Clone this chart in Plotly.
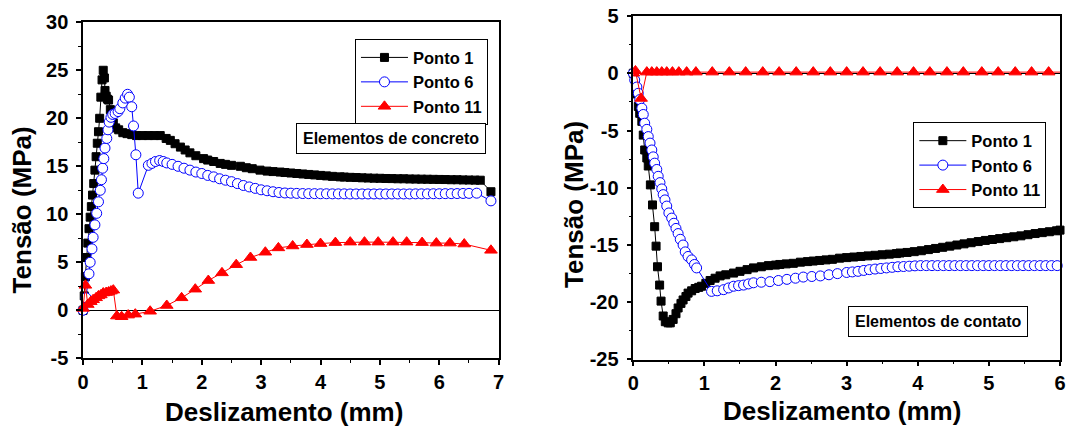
import plotly.graph_objects as go

# ---------------- Elementos de concreto ----------------
conc_p1_x = [0, 0.02, 0.04, 0.06, 0.08, 0.10, 0.12, 0.14, 0.16, 0.18, 0.20, 0.22, 0.24, 0.26, 0.28,
             0.30, 0.32, 0.34, 0.36, 0.37, 0.39, 0.41, 0.43, 0.46, 0.48, 0.51, 0.55, 0.60, 0.67, 0.74,
             0.82, 0.90, 1.00, 1.10, 1.20, 1.30, 1.40, 1.47, 1.55, 1.64, 1.72, 1.80, 1.90, 2.03, 2.10,
             2.20, 2.31, 2.40, 2.50, 2.65, 2.75, 2.85, 2.98, 3.10, 3.20, 3.32, 3.40, 3.50, 3.60, 3.70,
             3.80, 3.90, 4.00, 4.10, 4.20, 4.33, 4.40, 4.50, 4.60, 4.70, 4.80, 4.90, 5.00, 5.10, 5.20,
             5.30, 5.40, 5.50, 5.60, 5.70, 5.80, 5.90, 6.00, 6.10, 6.20, 6.30, 6.40, 6.50, 6.60, 6.69,
             6.87]
conc_p1_y = [0, 1.5, 3.5, 5.5, 7.0, 8.5, 9.7, 10.8, 12.0, 13.2, 14.6, 16.0, 17.4, 18.6, 20.0,
             22.2, 24.0, 25.0, 24.2, 22.9, 22.3, 22.0, 21.9, 20.9, 20.5, 19.5, 19.0, 18.8, 18.5, 18.4,
             18.3, 18.2, 18.2, 18.2, 18.2, 18.2, 17.9, 17.7, 17.35, 17.0, 16.7, 16.4, 16.1, 15.8, 15.65,
             15.5, 15.3, 15.2, 15.1, 15.0, 14.85, 14.75, 14.6, 14.5, 14.45, 14.4, 14.35, 14.3, 14.25, 14.2,
             14.15, 14.1, 14.05, 14.0, 13.95, 13.9, 13.88, 13.85, 13.83, 13.8, 13.78, 13.76, 13.75, 13.73, 13.72,
             13.7, 13.7, 13.68, 13.67, 13.66, 13.65, 13.64, 13.63, 13.62, 13.6, 13.6, 13.58, 13.57, 13.56, 13.55,
             12.35]

conc_p6_x = [0, 0.05, 0.10, 0.12, 0.15, 0.17, 0.20, 0.23, 0.26, 0.29, 0.31, 0.33, 0.35, 0.37, 0.40,
             0.42, 0.44, 0.47, 0.50, 0.54, 0.59, 0.62, 0.67, 0.71, 0.75, 0.78, 0.82, 0.85, 0.89, 0.93,
             1.10, 1.16, 1.22, 1.29, 1.35, 1.41, 1.50, 1.60, 1.70, 1.80, 1.90, 2.00, 2.10, 2.20, 2.30,
             2.40, 2.50, 2.60, 2.70, 2.80, 2.90, 3.00, 3.10, 3.20, 3.30, 3.40, 3.50, 3.60, 3.70, 3.80,
             3.90, 4.00, 4.10, 4.20, 4.30, 4.40, 4.50, 4.60, 4.70, 4.80, 4.90, 5.00, 5.10, 5.20, 5.30,
             5.40, 5.50, 5.60, 5.70, 5.80, 5.90, 6.00, 6.10, 6.20, 6.30, 6.40, 6.50, 6.63, 6.87]
conc_p6_y = [0, 1.3, 3.8, 5.0, 6.4, 7.6, 8.9, 10.1, 11.3, 12.5, 13.6, 14.8, 15.8, 16.9, 17.9,
             18.8, 19.6, 20.1, 20.4, 20.5, 20.7, 21.0, 21.6, 22.1, 22.5, 22.2, 21.2, 19.2, 16.2, 12.2,
             15.1, 15.3, 15.5, 15.6, 15.5, 15.35, 15.2, 15.0, 14.8, 14.6, 14.4, 14.25, 14.05, 13.9, 13.7,
             13.55, 13.4, 13.2, 13.0, 12.85, 12.7, 12.55, 12.45, 12.35, 12.27, 12.22, 12.2, 12.18, 12.16, 12.15,
             12.15, 12.14, 12.14, 12.13, 12.13, 12.13, 12.12, 12.12, 12.12, 12.12, 12.12, 12.12, 12.12, 12.12, 12.12,
             12.12, 12.12, 12.13, 12.13, 12.13, 12.14, 12.14, 12.15, 12.15, 12.16, 12.17, 12.18, 12.2, 11.4]

conc_p11_x = [0, 0.04, 0.08, 0.13, 0.17, 0.22, 0.26, 0.30, 0.34, 0.39, 0.43, 0.47, 0.51, 0.57, 0.65,
              0.76, 0.88, 1.13, 1.41, 1.66, 1.89, 2.11, 2.34, 2.58, 2.82, 3.07, 3.29, 3.53, 3.77, 4.00,
              4.25, 4.50, 4.74, 4.97, 5.22, 5.45, 5.71, 5.95, 6.18, 6.42, 6.87]
conc_p11_y = [0.2, 2.6, 0.6, 0.9, 1.1, 1.3, 1.5, 1.6, 1.8, 1.85, 1.9, 2.0, 2.1, -0.6, -0.67,
              -0.5, -0.4, -0.1, 0.5, 1.3, 2.2, 3.1, 3.9, 4.75, 5.5, 6.05, 6.5, 6.7, 6.85, 6.95,
              7.05, 7.1, 7.1, 7.1, 7.1, 7.1, 7.05, 7.0, 7.0, 6.9, 6.25]

conc_x_ticks = [0, 1, 2, 3, 4, 5, 6, 7]
conc_y_ticks = [-5, 0, 5, 10, 15, 20, 25, 30]

# ---------------- Elementos de contato ----------------
cont_p1_x = [0, 0.03, 0.05, 0.07, 0.09, 0.12, 0.14, 0.16, 0.19, 0.21, 0.24, 0.27, 0.30, 0.32, 0.34,
             0.37, 0.39, 0.42, 0.45, 0.49, 0.52, 0.56, 0.60, 0.63, 0.67, 0.70, 0.74, 0.77, 0.82, 0.87,
             0.92, 0.96, 1.02, 1.08, 1.15, 1.22, 1.30, 1.41, 1.50, 1.60, 1.69, 1.80, 1.90, 2.00, 2.06,
             2.15, 2.25, 2.35, 2.45, 2.53, 2.62, 2.71, 2.80, 2.90, 3.00, 3.10, 3.20, 3.30, 3.40, 3.50,
             3.60, 3.70, 3.75, 3.85, 3.95, 4.05, 4.15, 4.25, 4.35, 4.45, 4.55, 4.65, 4.75, 4.85, 4.95,
             5.05, 5.15, 5.25, 5.35, 5.45, 5.55, 5.65, 5.75, 5.85, 5.95, 6.00]
cont_p1_y = [0, -0.8, -1.8, -2.9, -3.5, -4.2, -5.4, -6.7, -7.4, -8.1, -9.75, -11.5, -13.4, -15.1, -16.9,
             -18.5, -19.9, -21.2, -21.7, -21.8, -21.8, -21.5, -21.0, -20.5, -20.1, -19.8, -19.5, -19.2, -19.0, -18.8,
             -18.7, -18.6, -18.35, -18.1, -17.9, -17.7, -17.6, -17.45, -17.3, -17.15, -17.0, -16.9, -16.8, -16.75, -16.7,
             -16.65, -16.6, -16.5, -16.45, -16.4, -16.35, -16.3, -16.25, -16.15, -16.1, -16.05, -16.0, -15.95, -15.9, -15.85,
             -15.8, -15.75, -15.7, -15.65, -15.58, -15.5, -15.4, -15.3, -15.2, -15.1, -15.0, -14.9, -14.8, -14.7, -14.6,
             -14.52, -14.44, -14.36, -14.28, -14.2, -14.1, -14.0, -13.92, -13.84, -13.76, -13.7]

cont_p6_x = [0, 0.02, 0.05, 0.07, 0.09, 0.12, 0.14, 0.16, 0.19, 0.21, 0.235, 0.26, 0.28, 0.30, 0.33,
             0.35, 0.375, 0.40, 0.42, 0.445, 0.47, 0.50, 0.54, 0.57, 0.60, 0.63, 0.66, 0.70, 0.73, 0.77,
             0.82, 0.86, 0.89, 1.10, 1.18, 1.27, 1.34, 1.41, 1.48, 1.55, 1.62, 1.69, 1.80, 1.92, 2.04,
             2.16, 2.28, 2.39, 2.51, 2.63, 2.75, 2.87, 3.00, 3.08, 3.16, 3.24, 3.32, 3.40, 3.48, 3.56,
             3.64, 3.72, 3.80, 3.88, 3.96, 4.04, 4.12, 4.20, 4.28, 4.36, 4.44, 4.52, 4.60, 4.68, 4.76,
             4.84, 4.92, 5.00, 5.08, 5.16, 5.24, 5.32, 5.40, 5.48, 5.56, 5.64, 5.72, 5.80, 5.88, 5.96]
cont_p6_y = [0, -0.6, -1.2, -1.75, -2.3, -3.05, -3.6, -4.36, -4.9, -5.53, -6.1, -6.7, -7.3, -7.85, -8.4,
             -9.0, -9.55, -10.1, -10.6, -11.06, -11.6, -12.2, -12.65, -13.1, -13.55, -14.0, -14.5, -15.0, -15.6, -16.0,
             -16.3, -16.7, -17.0, -19.05, -19.0, -18.9, -18.75, -18.6, -18.55, -18.5, -18.4, -18.3, -18.25, -18.2, -18.1,
             -18.0, -17.9, -17.8, -17.75, -17.7, -17.6, -17.5, -17.4, -17.35, -17.3, -17.22, -17.15, -17.1, -17.05, -17.0,
             -16.95, -16.9, -16.88, -16.85, -16.82, -16.8, -16.8, -16.8, -16.8, -16.8, -16.8, -16.8, -16.8, -16.8, -16.8,
             -16.8, -16.8, -16.8, -16.8, -16.8, -16.8, -16.8, -16.8, -16.8, -16.8, -16.8, -16.8, -16.8, -16.8, -16.8]

cont_p11_x = [0, 0.03, 0.11, 0.19, 0.26, 0.33, 0.40, 0.47, 0.55, 0.64, 0.75, 0.88, 1.11, 1.35, 1.58,
              1.82, 2.05, 2.29, 2.53, 2.77, 3.00, 3.23, 3.47, 3.71, 3.94, 4.17, 4.41, 4.64, 4.90, 5.13,
              5.37, 5.60, 5.84, 6.07]
cont_p11_y = [0, 0.2, -2.2, 0.1, 0.1, 0.1, 0.1, 0.1, 0.1, 0.1, 0.1, 0.1, 0.1, 0.1, 0.1,
              0.1, 0.1, 0.1, 0.1, 0.1, 0.1, 0.1, 0.1, 0.1, 0.1, 0.1, 0.1, 0.1, 0.1, 0.1,
              0.1, 0.1, 0.1, 0.1]

cont_x_ticks = [0, 1, 2, 3, 4, 5, 6]
cont_y_ticks = [-25, -20, -15, -10, -5, 0, 5]

FONT = "Liberation Sans, Arial, sans-serif"

series_style = {
    "Ponto 1": dict(color="black", symbol="square", size=8, fill="black"),
    "Ponto 6": dict(color="blue", symbol="circle", size=10, fill="white"),
    "Ponto 11": dict(color="red", symbol="triangle-up", size=11, fill="red"),
}


def add_series(fig, name, xs, ys, xa, ya, legend, clip=False):
    st = series_style[name]
    fig.add_trace(go.Scatter(
        x=xs, y=ys, name=name, mode="lines+markers",
        xaxis=xa, yaxis=ya, legend=legend, cliponaxis=clip,
        line=dict(color=st["color"], width=1),
        marker=dict(symbol=st["symbol"], size=st["size"], color=st["fill"],
                    line=dict(color=st["color"], width=1)),
    ))


fig = go.Figure()
add_series(fig, "Ponto 1", conc_p1_x, conc_p1_y, "x", "y", "legend")
add_series(fig, "Ponto 6", conc_p6_x, conc_p6_y, "x", "y", "legend")
add_series(fig, "Ponto 11", conc_p11_x, conc_p11_y, "x", "y", "legend")
add_series(fig, "Ponto 1", cont_p1_x, cont_p1_y, "x2", "y2", "legend2")
add_series(fig, "Ponto 6", cont_p6_x, cont_p6_y, "x2", "y2", "legend2")
add_series(fig, "Ponto 11", cont_p11_x, cont_p11_y, "x2", "y2", "legend2", clip=True)

tickfont = dict(family=FONT, size=20, color="black", weight="bold")


def axis(domain, rng, ticks, minor, anchor, standoff, zeroline=False):
    # plain hyphen for negative labels
    labels = [str(v) for v in ticks]
    return dict(
        domain=domain, range=rng, tickmode="array", tickvals=ticks, ticktext=labels,
        anchor=anchor,
        showgrid=False, zeroline=zeroline, zerolinecolor="black", zerolinewidth=1,
        showline=True, linecolor="black", linewidth=1.5, mirror=True,
        ticks="outside", ticklen=5, tickwidth=1.5, tickcolor="black",
        minor=dict(dtick=minor, tick0=0, ticks="outside", ticklen=3, tickwidth=1.2,
                   tickcolor="black", showgrid=False),
        tickfont=tickfont, ticklabelstandoff=standoff, automargin=False,
    )


legend_common = dict(
    bgcolor="white", bordercolor="black", borderwidth=1,
    font=dict(family=FONT, size=16.5, color="black", weight="bold"),
    xanchor="left", yanchor="top", tracegroupgap=0, itemwidth=47,
)

fig.update_layout(
    width=1066, height=426,
    margin=dict(l=0, r=0, t=0, b=0),
    paper_bgcolor="white", plot_bgcolor="white",
    xaxis=axis([0.0779, 0.4678], [0, 7], conc_x_ticks, 0.5, "y", 0),
    yaxis=axis([0.1589, 0.9477], [-5, 30], conc_y_ticks, 2.5, "x", 4, zeroline=True),
    xaxis2=axis([0.5941, 0.9944], [0, 6], cont_x_ticks, 0.5, "y2", 0),
    yaxis2=axis([0.1561, 0.9624], [-25, 5], cont_y_ticks, 2.5, "x2", 4, zeroline=True),
    legend=dict(x=0.333, y=0.908, **legend_common),
    legend2=dict(x=0.8568, y=0.7126, **legend_common),
)

title_font = dict(family=FONT, size=26, color="black", weight="bold")
box_font = dict(family=FONT, size=16, color="black", weight="bold")

annotations = [
    dict(text="Tensão (MPa)", x=0.021, y=0.507, textangle=-90, font=title_font),
    dict(text="Tensão (MPa)", x=0.5385, y=0.519, textangle=-90, font=title_font),
    dict(text="Deslizamento (mm)", x=0.2664, y=0.034, font=title_font),
    dict(text="Deslizamento (mm)", x=0.7896, y=0.036, font=title_font),
    dict(text="Elementos de concreto", x=0.3668, y=0.676, font=box_font,
         bordercolor="black", borderwidth=1, borderpad=6, bgcolor="white"),
    dict(text="Elementos de contato", x=0.8795, y=0.2448, font=box_font,
         bordercolor="black", borderwidth=1, borderpad=6, bgcolor="white"),
]
for a in annotations:
    a.update(xref="paper", yref="paper", showarrow=False, xanchor="center", yanchor="middle")
fig.update_layout(annotations=annotations)

fig.write_html("out.html")
